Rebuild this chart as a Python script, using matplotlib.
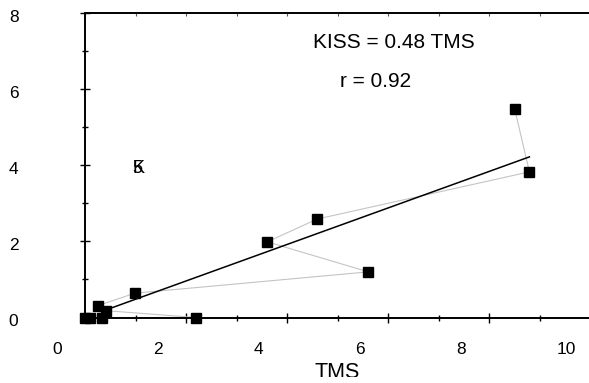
import matplotlib
matplotlib.use("Agg")
import matplotlib.pyplot as plt
from matplotlib.ticker import MultipleLocator
from matplotlib.transforms import ScaledTranslation, Bbox, TransformedBbox

# values, in plotting order
tms = [8.51, 8.80, 4.60, 3.61, 5.61, 0.99, 0.25, 0.41, 2.19, 0.33, 0.10, 0.00]
kiss = [5.48, 3.83, 2.59, 1.99, 1.20, 0.64, 0.31, 0.18, 0.00, 0.00, 0.00, 0.00]
slope = 0.48
r_value = 0.92
fit_range = [0.4, 8.8]
x_ticks = [0, 2, 4, 6, 8, 10]
y_ticks = [0, 2, 4, 6, 8]

plt.rcParams['font.family'] = ['Liberation Sans', 'DejaVu Sans']

fig = plt.figure(figsize=(5.89, 3.83), dpi=100)
ax = fig.add_axes([85 / 589, 1 - 317.5 / 383, 505 / 589, 304.2 / 383])

ax.plot(tms, kiss, color='#c4c4c4', lw=0.8, zorder=2)
ax.plot(fit_range, [slope * x for x in fit_range], color='black', lw=1.1, zorder=3)
ax.plot(tms, kiss, ls='none', marker='s', ms=7, mfc='black', mec='black',
        clip_on=False, zorder=4)

ax.set_xlim(0, 10)
ax.set_ylim(0, 8)

ax.spines['right'].set_visible(False)
for side in ['left', 'bottom', 'top']:
    ax.spines[side].set_linewidth(1.4)

ax.set_xticks(x_ticks)
ax.set_yticks(y_ticks)
ax.xaxis.set_minor_locator(MultipleLocator(1))
ax.yaxis.set_minor_locator(MultipleLocator(1))
ax.tick_params(which='major', direction='inout', length=7.8, width=1, labelsize=12.5)
ax.tick_params(which='minor', direction='inout', length=4.2, width=1)
ax.tick_params(axis='x', which='major', pad=14)
ax.tick_params(axis='y', which='major', pad=44)

# small ticks along the top border
top = ax.secondary_xaxis('top')
top.set_xticks(range(0, 11))
top.tick_params(direction='in', length=2, width=0.8, labeltop=False, color='#555555')
top.spines['top'].set_visible(False)

# the x labels sit to the left of their ticks in the original
ax.set_xticklabels([str(v) for v in x_ticks])
for lab in ax.get_xticklabels():
    lab.set_horizontalalignment('left')
    lab.set_transform(lab.get_transform() + ScaledTranslation(-33 / 100, 0, fig.dpi_scale_trans))
ax.set_yticklabels([str(v) for v in y_ticks])
for lab in ax.get_yticklabels():
    lab.set_transform(lab.get_transform() + ScaledTranslation(0, -3 / 100, fig.dpi_scale_trans))

# axis title, cut off at the bottom like the original scan
xlab = ax.set_xlabel('TMS', fontsize=15.5)
ax.xaxis.set_label_coords(0.5, -0.147)
xlab.set_clip_box(TransformedBbox(Bbox([[0, 6.5 / 383], [1, 1]]), fig.transFigure))
xlab.set_clip_on(True)

ax.text(4.51, 7.08, f'KISS = {slope} TMS', fontsize=15)
ax.text(5.05, 6.05, f'r = {r_value}', fontsize=15)

# overprinted panel letter
ax.text(0.94, 3.79, 'K', fontsize=13)
ax.text(0.94, 3.79, '5', fontsize=13)

fig.savefig('out.png', dpi=100)
